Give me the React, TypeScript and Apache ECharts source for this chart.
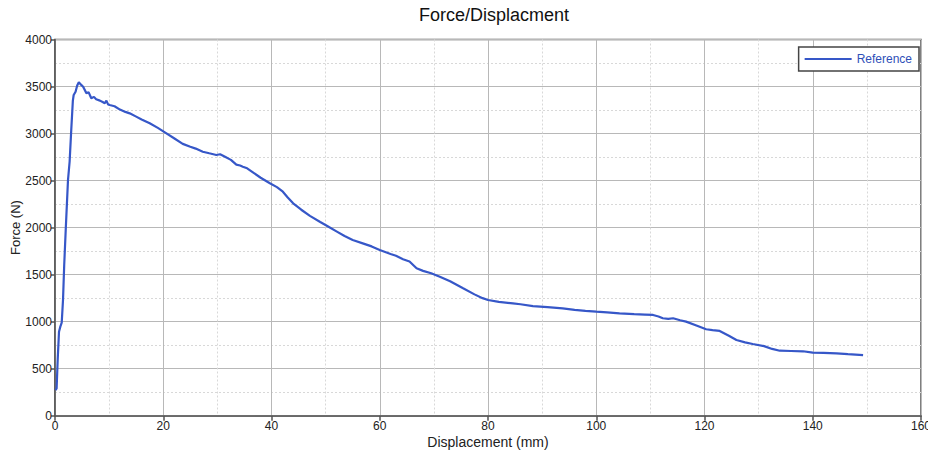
import React, { useEffect, useRef } from "react";
import * as echarts from "echarts";

const titleText = "Force/Displacment";
const xAxisName = "Displacement (mm)";
const yAxisName = "Force (N)";
const seriesName = "Reference";

const displacement = [
  0.1, 0.3, 0.5, 0.74, 1.0, 1.24, 1.48, 1.7, 2.0, 2.4, 2.7, 3.0, 3.3, 3.45, 3.8, 4.1, 4.4, 4.8, 5.2, 5.8,
  6.2, 6.7, 7.2, 7.6, 8.3, 8.8, 9.2, 9.5, 9.8, 10.1, 11, 12, 13, 13.8, 15, 16, 17.5, 19, 20.3, 22,
  23.6, 25, 26, 27.3, 28.5, 29.8, 30.5, 31.5, 32.5, 33.5, 34.2, 34.7, 35.5, 36.5, 38, 39.7, 41, 42.1, 43, 44,
  45.5, 47.1, 49, 50.7, 52, 53.5, 55, 57, 58.5, 60, 62, 63, 64.3, 65.5, 66.8, 68, 69.5, 71.1, 73, 75.4,
  77.5, 79, 80, 82, 84.6, 86, 88.3, 91, 93.8, 96, 98, 100, 102, 104.3, 107, 109, 110.5, 111.5, 112.3, 113.3,
  114.2, 115.5, 116.6, 118.5, 120.3, 121.5, 122.8, 124.5, 125.9, 127.5, 128.9, 131, 132.5, 133.9, 136, 138.2, 140, 142, 144.4, 146.5,
  149.3,
];

const force = [
  273, 290, 600, 893, 950, 989, 1230, 1600, 2000, 2505, 2700, 3037, 3350, 3410, 3445, 3510, 3545, 3520, 3498, 3428,
  3440, 3375, 3390, 3365, 3350, 3335, 3322, 3350, 3310, 3304, 3290, 3255, 3230, 3215, 3180, 3150, 3110, 3060, 3013, 2950,
  2890, 2860, 2840, 2807, 2790, 2772, 2780, 2750, 2720, 2670, 2660, 2648, 2630, 2590, 2530, 2471, 2430, 2382, 2320, 2258,
  2190, 2125, 2060, 2003, 1960, 1910, 1868, 1830, 1800, 1762, 1720, 1700, 1663, 1640, 1567, 1540, 1515, 1478, 1430, 1355,
  1290, 1250, 1230, 1210, 1195, 1185, 1166, 1155, 1142, 1125, 1115, 1106, 1098, 1089, 1080, 1075, 1071, 1055, 1036, 1030,
  1036, 1015, 1000, 960, 919, 910, 901, 850, 805, 780, 762, 740, 710, 691, 688, 685, 670, 668, 663, 655,
  645,
];

const FONT = "'Liberation Sans', Arial, sans-serif";

export default function App() {
  const ref = useRef<HTMLDivElement>(null);
  useEffect(() => {
    if (!ref.current) return;
    const chart = echarts.init(ref.current, null, { renderer: "svg" });
    const data = displacement.map((d, i) => [d, force[i]]);
    chart.setOption({
      animation: false,
      backgroundColor: "#ffffff",
      textStyle: { fontFamily: FONT },
      title: {
        text: titleText,
        left: 489,
        textAlign: "center",
        top: 1,
        textStyle: { fontFamily: FONT, fontSize: 18, fontWeight: "normal", color: "#111" },
      },
      legend: {
        right: 9,
        top: 47,
        orient: "vertical",
        backgroundColor: "#ffffff",
        borderColor: "#444",
        borderWidth: 1.5,
        borderRadius: 0,
        padding: [6, 7, 6, 6],
        icon: "rect",
        itemWidth: 47,
        itemHeight: 2,
        itemGap: 4,
        textStyle: { fontFamily: FONT, fontSize: 12, color: "#2f4fb8" },
        data: [seriesName],
      },
      grid: {
        left: 55,
        right: 7,
        top: 39.5,
        bottom: 38.3,
        containLabel: false,
        outerBoundsMode: "none",
        show: true,
        borderColor: "#555",
        borderWidth: 1.5,
        backgroundColor: "#ffffff",
      },
      xAxis: {
        type: "value",
        min: 0,
        max: 160,
        interval: 20,
        name: xAxisName,
        nameLocation: "middle",
        nameGap: 19,
        nameMoveOverlap: false,
        nameTextStyle: { fontFamily: FONT, fontSize: 14, color: "#222" },
        axisLine: { show: true, lineStyle: { color: "#555", width: 1.5 } },
        axisTick: { show: true, length: 5, lineStyle: { color: "#555", width: 1.5 } },
        axisLabel: { fontFamily: FONT, fontSize: 12, color: "#222", margin: 4, formatter: (v: number) => String(v) },
        splitLine: { show: true, lineStyle: { color: "#b8b8b8", width: 1 } },
        minorTick: { show: false, splitNumber: 2 },
        minorSplitLine: { show: true, lineStyle: { color: "#d8d8d8", width: 1, type: [2, 2] } },
      },
      yAxis: {
        type: "value",
        min: 0,
        max: 4000,
        interval: 500,
        name: yAxisName,
        nameLocation: "middle",
        nameGap: 33,
        nameMoveOverlap: false,
        nameTextStyle: { fontFamily: FONT, fontSize: 13, color: "#222" },
        axisLine: { show: true, lineStyle: { color: "#555", width: 1.5 } },
        axisTick: { show: true, length: 4, lineStyle: { color: "#555", width: 1.5 } },
        axisLabel: { fontFamily: FONT, fontSize: 12, color: "#222", margin: 3, formatter: (v: number) => String(v) },
        splitLine: { show: true, lineStyle: { color: "#b8b8b8", width: 1 } },
        minorTick: { show: false, splitNumber: 2 },
        minorSplitLine: { show: true, lineStyle: { color: "#d8d8d8", width: 1, type: [2, 2] } },
      },
      series: [
        {
          name: seriesName,
          type: "line",
          data,
          showSymbol: false,
          symbol: "none",
          lineStyle: { color: "#3657c8", width: 2.2 },
          itemStyle: { color: "#3657c8" },
        },
      ],
    });
    return () => chart.dispose();
  }, []);
  return <div ref={ref} style={{ width: 928, height: 454, position: "fixed", left: 0, top: 0 }} />;
}
